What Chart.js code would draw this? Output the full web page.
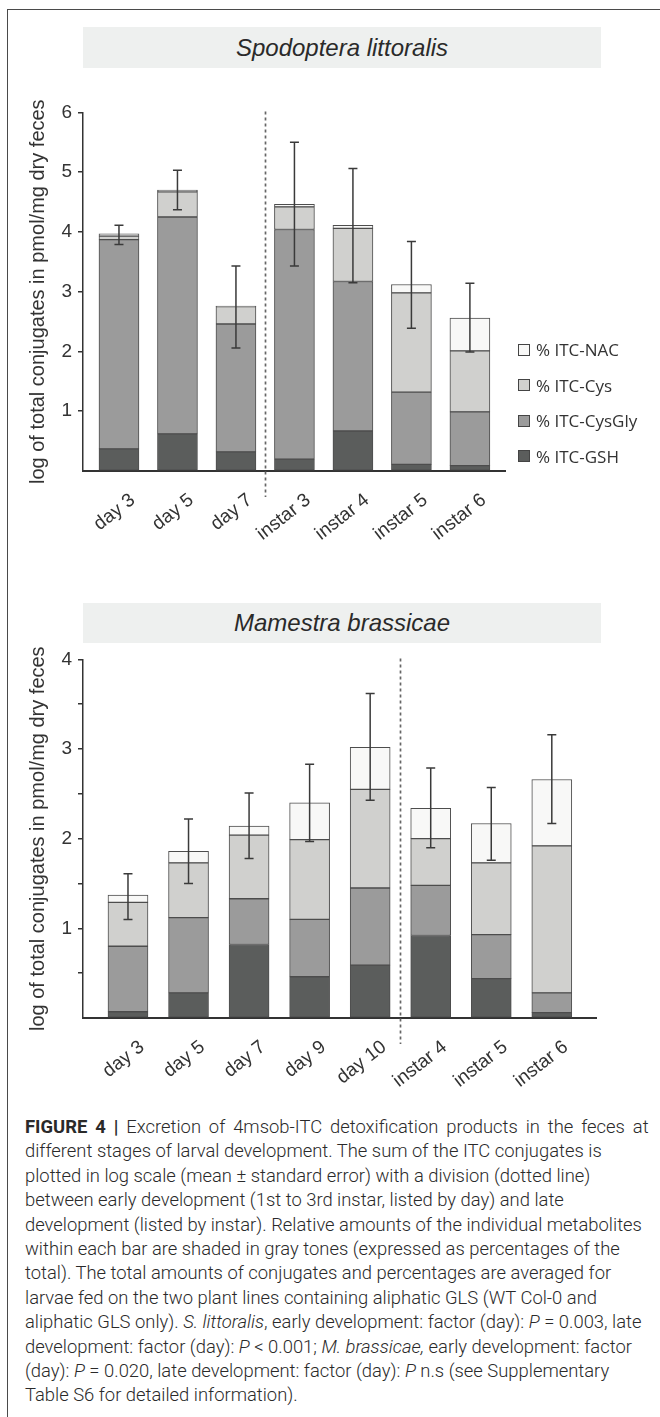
<!DOCTYPE html>
<html><head><meta charset="utf-8">
<script src="https://cdn.jsdelivr.net/npm/chart.js@4.4.1/dist/chart.umd.min.js"></script>
<style>
html,body{margin:0;padding:0;background:#fff;width:660px;height:1417px;overflow:hidden;}
#frame{position:absolute;left:7px;top:9px;width:720px;height:1440px;border:1.5px solid #4a4a4a;box-sizing:border-box;}
.tbox{position:absolute;left:83px;width:518px;background:#eef0ef;text-align:center;font-family:"Liberation Sans",Arial,sans-serif;font-style:italic;font-size:24px;color:#2a2a2a;}
#t1{top:27px;height:41px;line-height:41px;}
#t2{top:603px;height:40px;line-height:40px;}
canvas{position:absolute;left:0;}
#c1{top:95px;}
#c2{top:642px;}
#legend{position:absolute;left:518px;top:332px;font-family:"Open Sans",sans-serif;font-size:17px;color:#333;}
.li{height:35.5px;display:flex;align-items:center;white-space:nowrap;}
.sw{width:10px;height:10px;border:1px solid #444;margin-right:6px;}
#caption{position:absolute;left:25px;top:1115px;font-family:Roboto,sans-serif;font-weight:300;font-size:18.4px;line-height:24.4px;color:#2a2a2a;white-space:nowrap;}
#caption b{font-weight:700;}
#caption .l1{word-spacing:3.4px;}
</style></head>
<body>
<div id="frame"></div>
<div class="tbox" id="t1">Spodoptera littoralis</div>
<canvas id="c1" width="660" height="446"></canvas>
<div id="legend"></div>
<div class="tbox" id="t2">Mamestra brassicae</div>
<canvas id="c2" width="660" height="446"></canvas>
<div id="caption"><span class="l1"><b>FIGURE 4 |</b> Excretion of 4msob-ITC detoxification products in the feces at</span><br>different stages of larval development. The sum of the ITC conjugates is<br>plotted in log scale (mean ± standard error) with a division (dotted line)<br>between early development (1st to 3rd instar, listed by day) and late<br>development (listed by instar). Relative amounts of the individual metabolites<br>within each bar are shaded in gray tones (expressed as percentages of the<br>total). The total amounts of conjugates and percentages are averaged for<br>larvae fed on the two plant lines containing aliphatic GLS (WT Col-0 and<br>aliphatic GLS only). <i>S. littoralis</i>, early development: factor (day): <i>P</i> = 0.003, late<br>development: factor (day): <i>P</i> &lt; 0.001; <i>M. brassicae,</i> early development: factor<br>(day): <i>P</i> = 0.020, late development: factor (day): <i>P</i> n.s (see Supplementary<br>Table S6 for detailed information).</div>
<script>
// ---- data: Spodoptera littoralis ----
const topCategories = ['day 3','day 5','day 7','instar 3','instar 4','instar 5','instar 6'];
const topGSH    = [0.37, 0.62, 0.32, 0.20, 0.67, 0.11, 0.09];
const topCysGly = [3.50, 3.63, 2.14, 3.84, 2.50, 1.21, 0.90];
const topCys    = [0.06, 0.42, 0.29, 0.38, 0.89, 1.66, 1.02];
const topNAC    = [0.04, 0.03, 0.01, 0.04, 0.05, 0.14, 0.55];
const topErrHigh = [4.11, 5.03, 3.43, 5.50, 5.06, 3.84, 3.14];
const topErrLow  = [3.79, 4.37, 2.06, 3.43, 3.15, 2.39, 1.99];
const topYTicks = [1, 2, 3, 4, 5, 6];

// ---- data: Mamestra brassicae ----
const botCategories = ['day 3','day 5','day 7','day 9','day 10','instar 4','instar 5','instar 6'];
const botGSH    = [0.07, 0.28, 0.82, 0.46, 0.59, 0.92, 0.44, 0.06];
const botCysGly = [0.73, 0.84, 0.51, 0.64, 0.86, 0.56, 0.49, 0.22];
const botCys    = [0.49, 0.61, 0.71, 0.89, 1.10, 0.52, 0.80, 1.64];
const botNAC    = [0.08, 0.13, 0.10, 0.41, 0.47, 0.34, 0.44, 0.74];
const botErrHigh = [1.61, 2.22, 2.51, 2.83, 3.62, 2.79, 2.57, 3.16];
const botErrLow  = [1.10, 1.50, 1.78, 1.97, 2.43, 1.90, 1.76, 2.17];
const botYTicks = [1, 2, 3, 4];

const seriesNames = ['% ITC-GSH', '% ITC-CysGly', '% ITC-Cys', '% ITC-NAC'];
const seriesColors = ['#5b5d5c', '#9b9b9b', '#d0d0ce', '#f8f8f7'];

const AXIS = '#333333';
const FONT = '"Liberation Sans", Arial, sans-serif';

const errorBars = {
  id: 'errorBars',
  afterDatasetsDraw(chart, args, opts) {
    const {ctx, scales: {x, y}} = chart;
    ctx.save();
    ctx.strokeStyle = '#3a3a3a';
    ctx.lineWidth = 1.5;
    opts.high.forEach((h, i) => {
      const px = x.getPixelForValue(i);
      const yh = y.getPixelForValue(h), yl = y.getPixelForValue(opts.low[i]);
      ctx.beginPath();
      ctx.moveTo(px, yh); ctx.lineTo(px, yl);
      ctx.moveTo(px - 4.5, yh); ctx.lineTo(px + 4.5, yh);
      ctx.moveTo(px - 4.5, yl); ctx.lineTo(px + 4.5, yl);
      ctx.stroke();
    });
    ctx.restore();
  }
};

const divider = {
  id: 'divider',
  afterDraw(chart, args, opts) {
    const {ctx, chartArea, scales: {x}} = chart;
    const px = Math.round(x.getPixelForValue(opts.at)) + 0.5;
    ctx.save();
    ctx.strokeStyle = '#666666';
    ctx.lineWidth = 1.7;
    ctx.setLineDash([3, 3]);
    ctx.beginPath();
    ctx.moveTo(px, chartArea.top - 1);
    ctx.lineTo(px, chartArea.bottom + opts.below);
    ctx.stroke();
    ctx.restore();
  }
};

function makeChart(id, cats, series, errHigh, errLow, yMax, yStep, yLabels, xMin, xMax, padRight, dividerAt) {
  const datasets = series.map((vals, k) => ({
    label: seriesNames[k],
    data: vals.map((v, i) => ({x: i, y: v})),
    backgroundColor: seriesColors[k],
    borderColor: '#4d4d4d',
    borderWidth: 1,
    borderSkipped: false,
    barThickness: 40
  }));
  return new Chart(document.getElementById(id), {
    type: 'bar',
    data: {datasets},
    plugins: [errorBars, divider],
    options: {
      responsive: false,
      animation: false,
      devicePixelRatio: 1,
      layout: {padding: {top: 16, left: 0, right: padRight, bottom: 0}},
      plugins: {
        legend: {display: false},
        tooltip: {enabled: false},
        errorBars: {high: errHigh, low: errLow},
        divider: {at: dividerAt, below: 26}
      },
      scales: {
        x: {
          type: 'linear',
          stacked: true,
          min: xMin, max: xMax,
          offset: false,
          grid: {display: false},
          border: {display: true, color: AXIS, width: 2},
          afterBuildTicks: s => { s.ticks = cats.map((c, i) => ({value: i})); },
          afterFit: s => { s.height = 70; },
          ticks: {
            autoSkip: false,
            minRotation: 38, maxRotation: 38,
            padding: 10,
            labelOffset: 14,
            color: AXIS,
            font: {family: FONT, size: 19},
            callback: v => cats[v]
          }
        },
        y: {
          stacked: true,
          min: 0, max: yMax,
          afterFit: s => { s.width = 83; },
          grid: {
            drawOnChartArea: false, drawTicks: true, tickLength: 5,
            color: c => (c.tick && c.tick.value === 0) ? 'rgba(0,0,0,0)' : AXIS,
            lineWidth: 1.5
          },
          border: {display: true, color: AXIS, width: 1.5},
          ticks: {
            stepSize: yStep,
            padding: 6,
            color: AXIS,
            font: {family: FONT, size: 19},
            callback: v => yLabels.includes(v) ? String(v) : ''
          },
          title: {
            display: true,
            text: 'log of total conjugates in pmol/mg dry feces',
            color: AXIS,
            font: {family: FONT, size: 20},
            padding: {top: 26, bottom: 0}
          }
        }
      }
    }
  });
}

const chart1 = makeChart('c1', topCategories, [topGSH, topCysGly, topCys, topNAC],
  topErrHigh, topErrLow, 6, 1, topYTicks, -0.615, 6.6, 155, 2.5);
const chart2 = makeChart('c2', botCategories, [botGSH, botCysGly, botCys, botNAC],
  botErrHigh, botErrLow, 4, 0.5, botYTicks, -0.743, 7.73, 64, 4.5);

// HTML legend built from the first chart's datasets (top to bottom: NAC .. GSH)
const legendEl = document.getElementById('legend');
chart1.data.datasets.slice().reverse().forEach(ds => {
  const row = document.createElement('div');
  row.className = 'li';
  const sw = document.createElement('span');
  sw.className = 'sw';
  sw.style.background = ds.backgroundColor;
  const tx = document.createElement('span');
  tx.textContent = ds.label;
  row.appendChild(sw); row.appendChild(tx);
  legendEl.appendChild(row);
});
</script>
</body></html>
